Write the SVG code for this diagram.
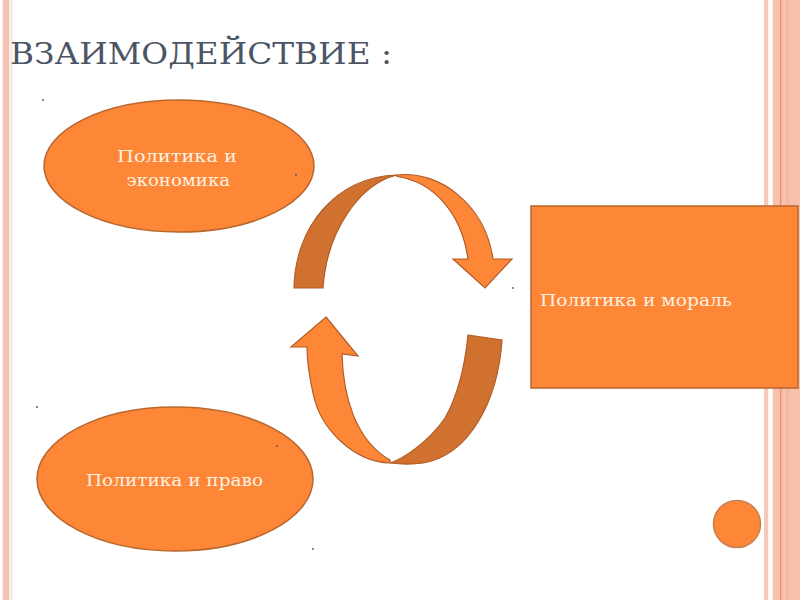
<svg xmlns="http://www.w3.org/2000/svg" width="800" height="600" viewBox="0 0 800 600">
<style>
.shape{fill:#fd8637;stroke:#b8672e;stroke-width:1.5}
.dark{fill:#d1712f;stroke:#b05e28;stroke-width:1.2}
.light{fill:#fd8637;stroke:#b05e28;stroke-width:1.2}
.lbl{font-family:"DejaVu Serif","Liberation Serif",serif;font-size:16px;fill:#fff1e0}
.dot{fill:#555}
</style>
<rect width="800" height="600" fill="#ffffff"/>
<g id="decor">
<rect x="2.7" y="0" width="6.6" height="600" fill="#f3c4b3"/>
<rect x="9.3" y="0" width="3.5" height="600" fill="#fcebe4"/>
<rect x="764" y="0" width="4.3" height="600" fill="#f5c8b9"/>
<rect x="772.7" y="0" width="27.3" height="600" fill="#f7c1ab"/>
<rect x="780" y="0" width="1.3" height="600" fill="#e8916e"/>
<rect x="786" y="0" width="3" height="600" fill="#f4b9a2"/>
</g>
<text x="10" y="63.5" font-family="'DejaVu Serif','Liberation Serif',serif" font-size="30" fill="#4c5565" textLength="382" lengthAdjust="spacingAndGlyphs">ВЗАИМОДЕЙСТВИЕ :</text>
<g id="node-economy">
<ellipse class="shape" cx="179" cy="166" rx="135" ry="66"/>
<text class="lbl" x="117" y="162" textLength="120" lengthAdjust="spacingAndGlyphs">Политика  и</text>
<text class="lbl" x="126.5" y="186" textLength="103.5" lengthAdjust="spacingAndGlyphs">экономика</text>
</g>
<g id="node-law">
<ellipse class="shape" cx="175" cy="479" rx="138" ry="72"/>
<text class="lbl" x="86" y="486" textLength="177" lengthAdjust="spacingAndGlyphs">Политика и право</text>
</g>
<g id="node-moral">
<rect class="shape" x="531" y="206" width="267" height="182"/>
<text class="lbl" x="540" y="306" textLength="192" lengthAdjust="spacingAndGlyphs">Политика и мораль</text>
</g>
<g id="node-circle">
<circle cx="737" cy="524" r="23.5" fill="#fd8637" stroke="#c9804f" stroke-width="1.5"/>
</g>
<g id="connectors">
<path class="dark" d="M294,288 C295,228 335,177 397,175 C360,184 327,230 323,288 Z"/>
<path class="light" d="M397,175 C440,170 485,205 493,259 L512,259 L485,288 L453,259 L468,259 C462,215 435,182 397,176.5 Z"/>
<path class="dark" d="M468,335 L502,340 C498,400 470,455 423,463 C410,465 398,464 390,463 C405,458 430,440 445,418 C458,395 465,365 468,335 Z"/>
<path class="light" d="M326,317 L358,356 L342,354 C343,395 355,440 390,460 L390,463 C355,462 320,430 313,393 C309,375 307,360 307,347 L291,347 Z"/>
</g>
<g id="dots">
<circle class="dot" cx="43" cy="100" r="0.9"/>
<circle class="dot" cx="296" cy="175" r="0.9"/>
<circle class="dot" cx="513" cy="288" r="0.9"/>
<circle class="dot" cx="37" cy="407" r="0.9"/>
<circle class="dot" cx="277" cy="446" r="0.9"/>
<circle class="dot" cx="313" cy="549" r="0.9"/>
</g>
</svg>
